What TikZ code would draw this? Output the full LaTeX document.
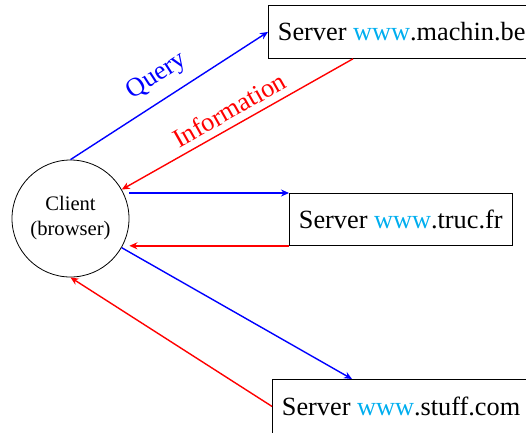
\documentclass[tikz,border=0pt]{standalone}
\usepackage{fontspec}
\setmainfont{Liberation Serif}
\usetikzlibrary{arrows.meta,calc}
\definecolor{wwwcol}{RGB}{0,174,239}
\newcommand{\www}{\textcolor{wwwcol}{www}}
\begin{document}
\begin{tikzpicture}[x=1pt,y=-1pt,
  server/.style={draw=black,line width=0.8pt,anchor=north west,inner xsep=9.5pt,inner ysep=0pt,
    font=\fontsize{26.3}{30}\selectfont},
  client/.style={draw=black,line width=0.8pt,circle,minimum size=117pt,inner sep=0pt,align=center,
    font=\fontsize{20.6}{25}\selectfont},
  qarrow/.style={draw=blue,line width=1.4pt,-{Stealth[length=8pt,width=7pt]}},
  iarrow/.style={draw=red,line width=1.4pt,-{Stealth[length=8pt,width=7pt]}},
  lbl/.style={font=\fontsize{26.3}{30}\selectfont,inner sep=3pt,sloped}]
\useasboundingbox (0,0) rectangle (526,432);
\node[client] (client) at (70.5,218.5) {Client\\(browser)};
\node[server,minimum height=53pt] (machin) at (268,5) {Server \www.machin.be};
\node[server,minimum height=52pt] (truc) at (289,193) {Server \www.truc.fr};
\node[server,minimum height=54pt] (stuff) at (272,379) {Server \www.stuff.com};
\coordinate (mstart) at ($(machin.south west)+(85,0)$);
\coordinate (starget) at ($(stuff.north west)+(80,0)$);
\draw[qarrow] (client.north) -- node[lbl,above=8pt,text=blue] {Query} (machin.west);
\draw[iarrow] (mstart) -- node[lbl,above=3.5pt,text=red] {Information} (client);
\draw[qarrow] (client.east |- truc.north west) -- (truc.north west);
\draw[iarrow] (truc.south west) -- (client.east |- truc.south west);
\draw[qarrow] (client) -- (starget);
\draw[iarrow] (stuff.west) -- (client.south);
\end{tikzpicture}
\end{document}
